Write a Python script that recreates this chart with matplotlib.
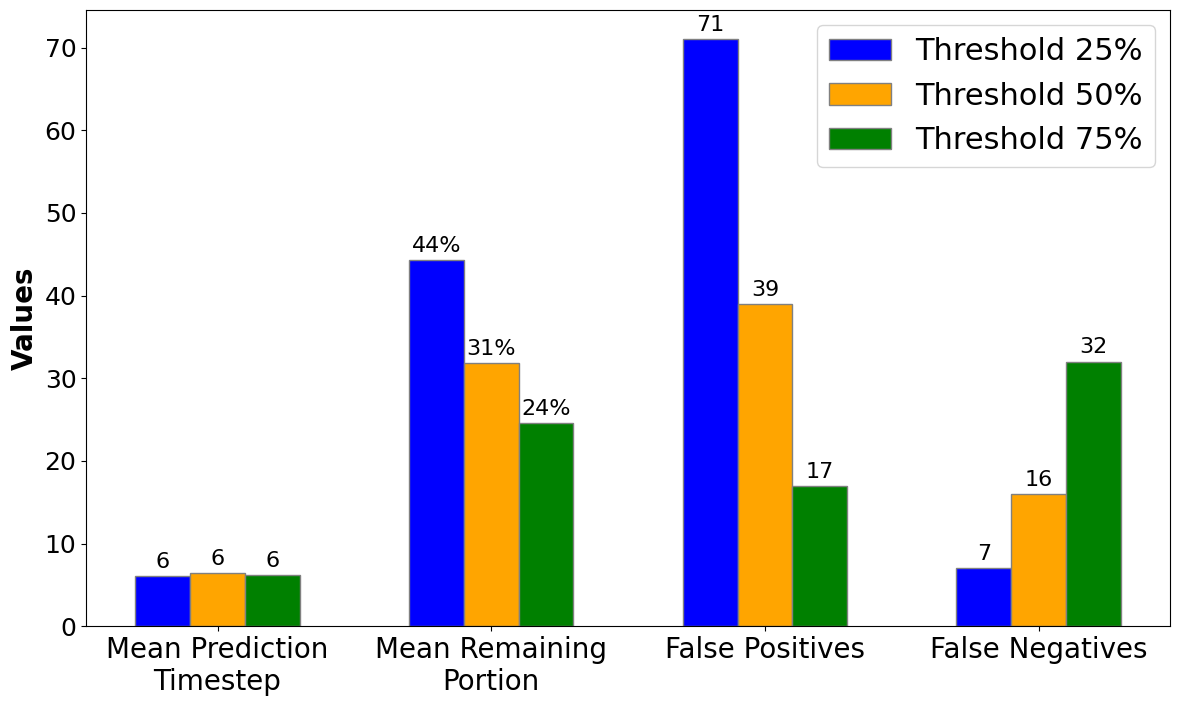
import matplotlib
matplotlib.use('Agg')
import matplotlib.pyplot as plt
import numpy as np

categories = ['Mean Prediction\nTimestep', 'Mean Remaining\nPortion', 'False Positives', 'False Negatives']
labels = ['Threshold 25%', 'Threshold 50%', 'Threshold 75%']
colors = ['blue', 'orange', 'green']

thr25 = [6.05, 44.3, 71, 7]
thr50 = [6.4, 31.8, 39, 16]
thr75 = [6.2, 24.6, 17, 32]
series = [thr25, thr50, thr75]

x = np.arange(len(categories))
width = 0.2

fig, ax = plt.subplots(figsize=(11.8, 7.06), dpi=100)
for i, (vals, lab, col) in enumerate(zip(series, labels, colors)):
    bars = ax.bar(x + (i - 1) * width, vals, width, label=lab, color=col, edgecolor='grey')
    for j, b in enumerate(bars):
        h = b.get_height()
        txt = f"{int(h)}%" if j == 1 else f"{int(round(h)) if j != 0 else int(h)}"
        ax.annotate(txt, (b.get_x() + b.get_width() / 2, h), xytext=(0, 3),
                    textcoords='offset points', ha='center', va='bottom', fontsize=16)

ax.set_ylabel('Values', fontsize=20, fontweight='bold')
ax.set_xticks(x)
ax.set_xticklabels(categories, fontsize=20)
ax.tick_params(axis='y', labelsize=18)
ax.legend(fontsize=22)

plt.subplots_adjust(left=0.073, right=0.9915, top=0.986, bottom=0.113)
plt.savefig('out.png')
